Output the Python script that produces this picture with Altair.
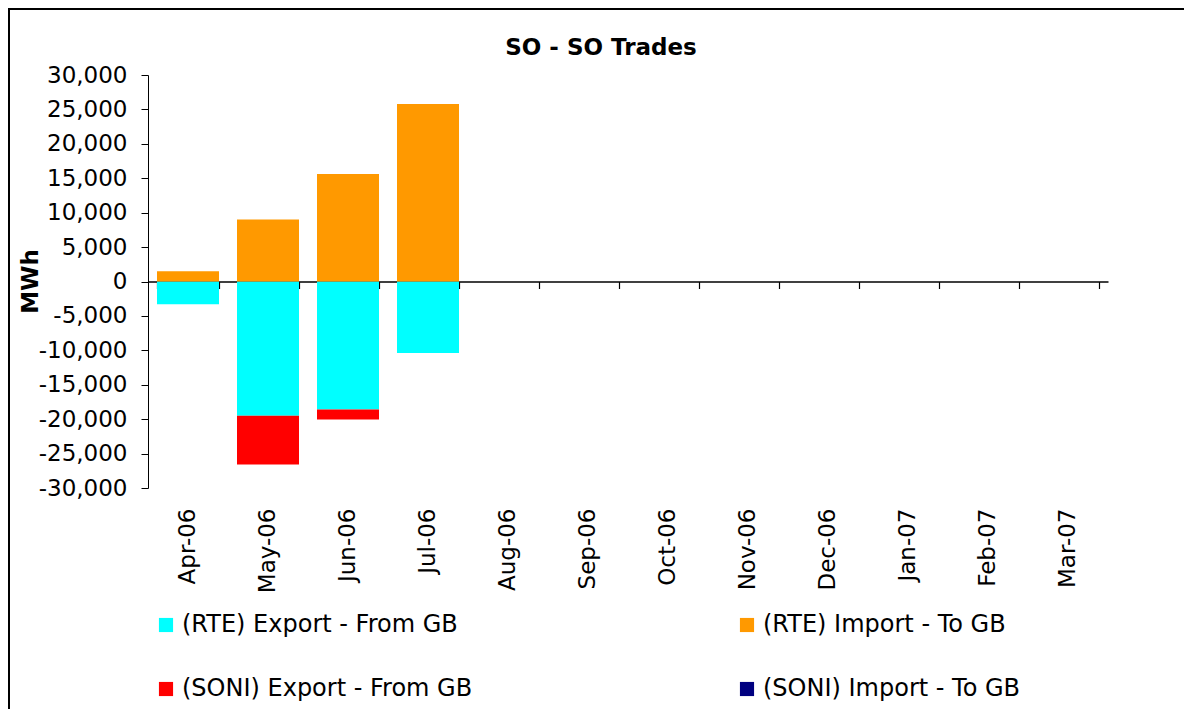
import altair as alt
import pandas as pd

months = ["Apr-06", "May-06", "Jun-06", "Jul-06", "Aug-06", "Sep-06",
          "Oct-06", "Nov-06", "Dec-06", "Jan-07", "Feb-07", "Mar-07"]
series_names = ["(RTE) Export  - From GB", "(RTE) Import - To GB",
                "(SONI) Export  - From GB", "(SONI) Import - To GB"]
series_colors = ["#00FFFF", "#FF9900", "#FF0000", "#000080"]
# legend fills column by column: col 1 = exports, col 2 = imports
legend_order = [0, 2, 1, 3]

rte_export = [-3300, -19500, -18600, -10400, 0, 0, 0, 0, 0, 0, 0, 0]
rte_import = [1500, 9000, 15600, 25800, 0, 0, 0, 0, 0, 0, 0, 0]
soni_export = [0, -7100, -1450, 0, 0, 0, 0, 0, 0, 0, 0, 0]
soni_import = [0, 0, 0, 0, 0, 0, 0, 0, 0, 0, 0, 0]

y_ticks = list(range(-30000, 30001, 5000))

rows = []
for idx, (name, vals) in enumerate(zip(series_names,
                                       [rte_export, rte_import, soni_export, soni_import])):
    for m, v in zip(months, vals):
        if v != 0:
            rows.append({"month": m, "series": name, "value": v, "ord": idx})
df = pd.DataFrame(rows)

FONT = "DejaVu Sans"
W, H = 960, 413

xscale = alt.Scale(domain=months, paddingInner=0.225, paddingOuter=0.1125)
yscale = alt.Scale(domain=[-30000, 30000], nice=False)
cscale = alt.Scale(domain=[series_names[i] for i in legend_order],
                   range=[series_colors[i] for i in legend_order])

bars = alt.Chart(df).mark_bar().encode(
    x=alt.X("month:N", scale=xscale, sort=months, title=None,
            axis=alt.Axis(labelAngle=-90, labelAlign="right", labelBaseline="middle",
                          labelFont=FONT, labelFontSize=23, labelColor="black",
                          labelPadding=20, domain=False, ticks=False, tickSize=0)),
    y=alt.Y("value:Q", scale=yscale, stack="zero", title="MWh",
            axis=alt.Axis(values=y_ticks, grid=False, labelOverlap=False,
                          labelExpr="replace(format(datum.value, ',d'), '\u2212', '-')",
                          labelFont=FONT, labelFontSize=23, labelColor="black",
                          labelPadding=14, tickSize=7, tickColor="black",
                          domainColor="black", titleFont=FONT, titleFontSize=23,
                          titleFontWeight="bold", titleColor="black",
                          titleX=-118, titleY=206, titleAngle=270,
                          titleAlign="center", titleBaseline="middle")),
    color=alt.Color("series:N", scale=cscale, title=None,
                    legend=alt.Legend(orient="none", legendX=6, legendY=538,
                                      columns=2, columnPadding=255, rowPadding=40,
                                      symbolType="square", symbolSize=200,
                                      symbolStrokeWidth=0, labelFont=FONT,
                                      labelFontSize=24, labelColor="black",
                                      labelOffset=4, labelLimit=400)),
    order=alt.Order("ord:Q"),
)

zero_axis = alt.Chart(df).mark_bar(opacity=0).encode(
    x=alt.X("month:N", scale=xscale, sort=months, title=None,
            axis=alt.Axis(orient="bottom", offset=-(H / 2), labels=False,
                          domainColor="black", tickColor="black", tickSize=7,
                          tickBand="extent", domainWidth=1.5, tickWidth=1.2)),
    y=alt.Y("value:Q", scale=yscale, stack="zero", axis=None),
)

frame = alt.Chart(df).mark_rect(fill=None, stroke="black", strokeWidth=2).encode(
    x=alt.value(-139), x2=alt.value(1400), y=alt.value(-66), y2=alt.value(900)
)

chart = alt.layer(frame, bars, zero_axis).resolve_axis(
    x="independent", y="independent"
).properties(
    width=W, height=H,
    background="white",
    title=alt.TitleParams("SO - SO Trades", font=FONT, fontSize=23, fontWeight="bold",
                          color="black", anchor="middle", dx=-27, offset=0, dy=52),
    autosize=alt.AutoSizeParams(type="none"),
    padding={"left": 140, "top": 67, "right": 76, "bottom": 221},
).configure_view(stroke="transparent", strokeWidth=0)

chart.save("out.html", embed_options={"renderer": "svg", "actions": False})
